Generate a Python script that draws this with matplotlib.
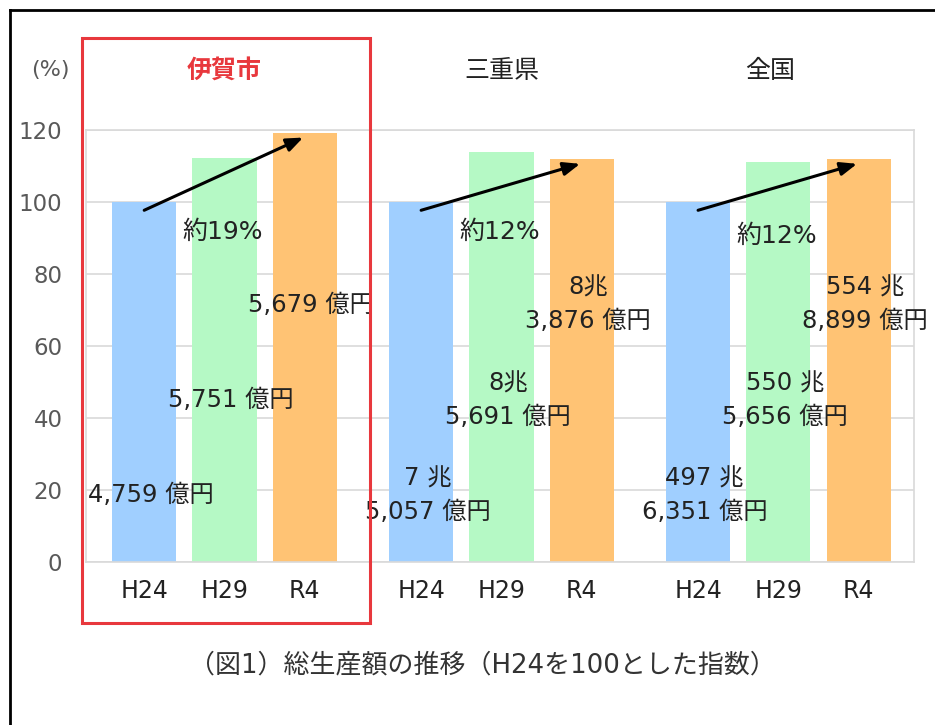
import matplotlib
matplotlib.use("Agg")
import matplotlib.pyplot as plt
from matplotlib.patches import Rectangle
from matplotlib.lines import Line2D

plt.rcParams['font.family'] = ['DejaVu Sans', 'Noto Sans CJK JP']

# ---- data ----
groups = ['伊賀市', '三重県', '全国']
periods = ['H24', 'H29', 'R4']
iga = [100, 112.2, 119.2]
mie = [100, 113.9, 111.9]
zenkoku = [100, 111.1, 111.9]
growth_labels = ['約19%', '約12%', '約12%']
iga_amounts = ['4,759 億円', '5,751 億円', '5,679 億円']
mie_amounts = ['7 兆\n5,057 億円', '8兆\n5,691 億円', '8兆\n3,876 億円']
zenkoku_amounts = ['497 兆\n6,351 億円', '550 兆\n5,656 億円', '554 兆\n8,899 億円']
yticks = [0, 20, 40, 60, 80, 100, 120]
caption = '（図1）総生産額の推移（H24を100とした指数）'

series = [iga, mie, zenkoku]
amounts = [iga_amounts, mie_amounts, zenkoku_amounts]
colors = ['#A0CFFF', '#B5F9C5', '#FFC374']
group_step = 3.45

W, H = 935, 725
fig = plt.figure(figsize=(W / 100, H / 100), dpi=100)
ax = fig.add_axes([86 / W, (H - 562) / H, (914 - 86) / W, (562 - 130) / H])

xs_all, labels_all = [], []
for g, vals in enumerate(series):
    xs = [g * group_step + i for i in range(3)]
    ax.bar(xs, vals, width=0.8, color=colors, zorder=2)
    xs_all += xs
    labels_all += periods
    # value labels
    label_y = [18.5, 45, 71.5]
    for i, txt in enumerate(amounts[g]):
        ax.text(xs[i] + 0.08, label_y[i], txt, ha='center', va='center',
                fontsize=17.5, color='#222222', linespacing=1.5, zorder=4)
    # growth arrow
    ax.annotate('', xy=(xs[2] - 0.02, vals[2] - 1.3), xytext=(xs[0] + 0.0, 97.7),
                arrowprops=dict(arrowstyle='-|>,head_length=1.0,head_width=0.4',
                                color='black', lw=2.2, shrinkA=0, shrinkB=0),
                zorder=5)
    ax.text(xs[1] - 0.02, 91.8 if g < 2 else 90.5, growth_labels[g], ha='center',
            va='center', fontsize=18, color='#222222', zorder=4)
    # group title
    ax.text(xs[1] if g < 2 else xs[1] - 0.1, 136.5, groups[g], ha='center', va='center',
            fontsize=18, color='#E8383D' if g == 0 else '#222222',
            fontweight='bold' if g == 0 else 'normal', clip_on=False)

ax.set_xlim(-0.725, 2 * group_step + 2 + 0.69)
ax.set_ylim(0, 120)
ax.set_yticks(yticks)
ax.set_yticklabels([str(t) for t in yticks], fontsize=16.5, color='#595959')
ax.set_xticks(xs_all)
ax.set_xticklabels(labels_all, fontsize=17, color='#222222')
ax.tick_params(axis='both', length=0)
ax.tick_params(axis='y', pad=17)
ax.tick_params(axis='x', pad=12)
ax.grid(axis='y', color='#D9D9D9', lw=1.2, zorder=0)
ax.set_axisbelow(True)
for s in ax.spines.values():
    s.set_color('#D9D9D9')
    s.set_linewidth(1.2)

# red highlight box around 伊賀市
ax.add_patch(Rectangle((-0.775, -16.9), 3.59, 162.5, fill=False,
                       edgecolor='#E8383D', lw=2.2, clip_on=False, zorder=6))

fig.text(50 / W, 1 - 70 / H, '(%)', ha='center', va='center', fontsize=16, color='#595959')
fig.text(482 / W, 1 - 665 / H, caption, ha='center', va='center', fontsize=18.7, color='#333333')

# outer frame (top and left)
fig.add_artist(Line2D([10 / W, 10 / W], [0, 1 - 10 / H], color='black', lw=2))
fig.add_artist(Line2D([10 / W, 1], [1 - 10 / H, 1 - 10 / H], color='black', lw=2))

fig.savefig('out.png', dpi=100)
